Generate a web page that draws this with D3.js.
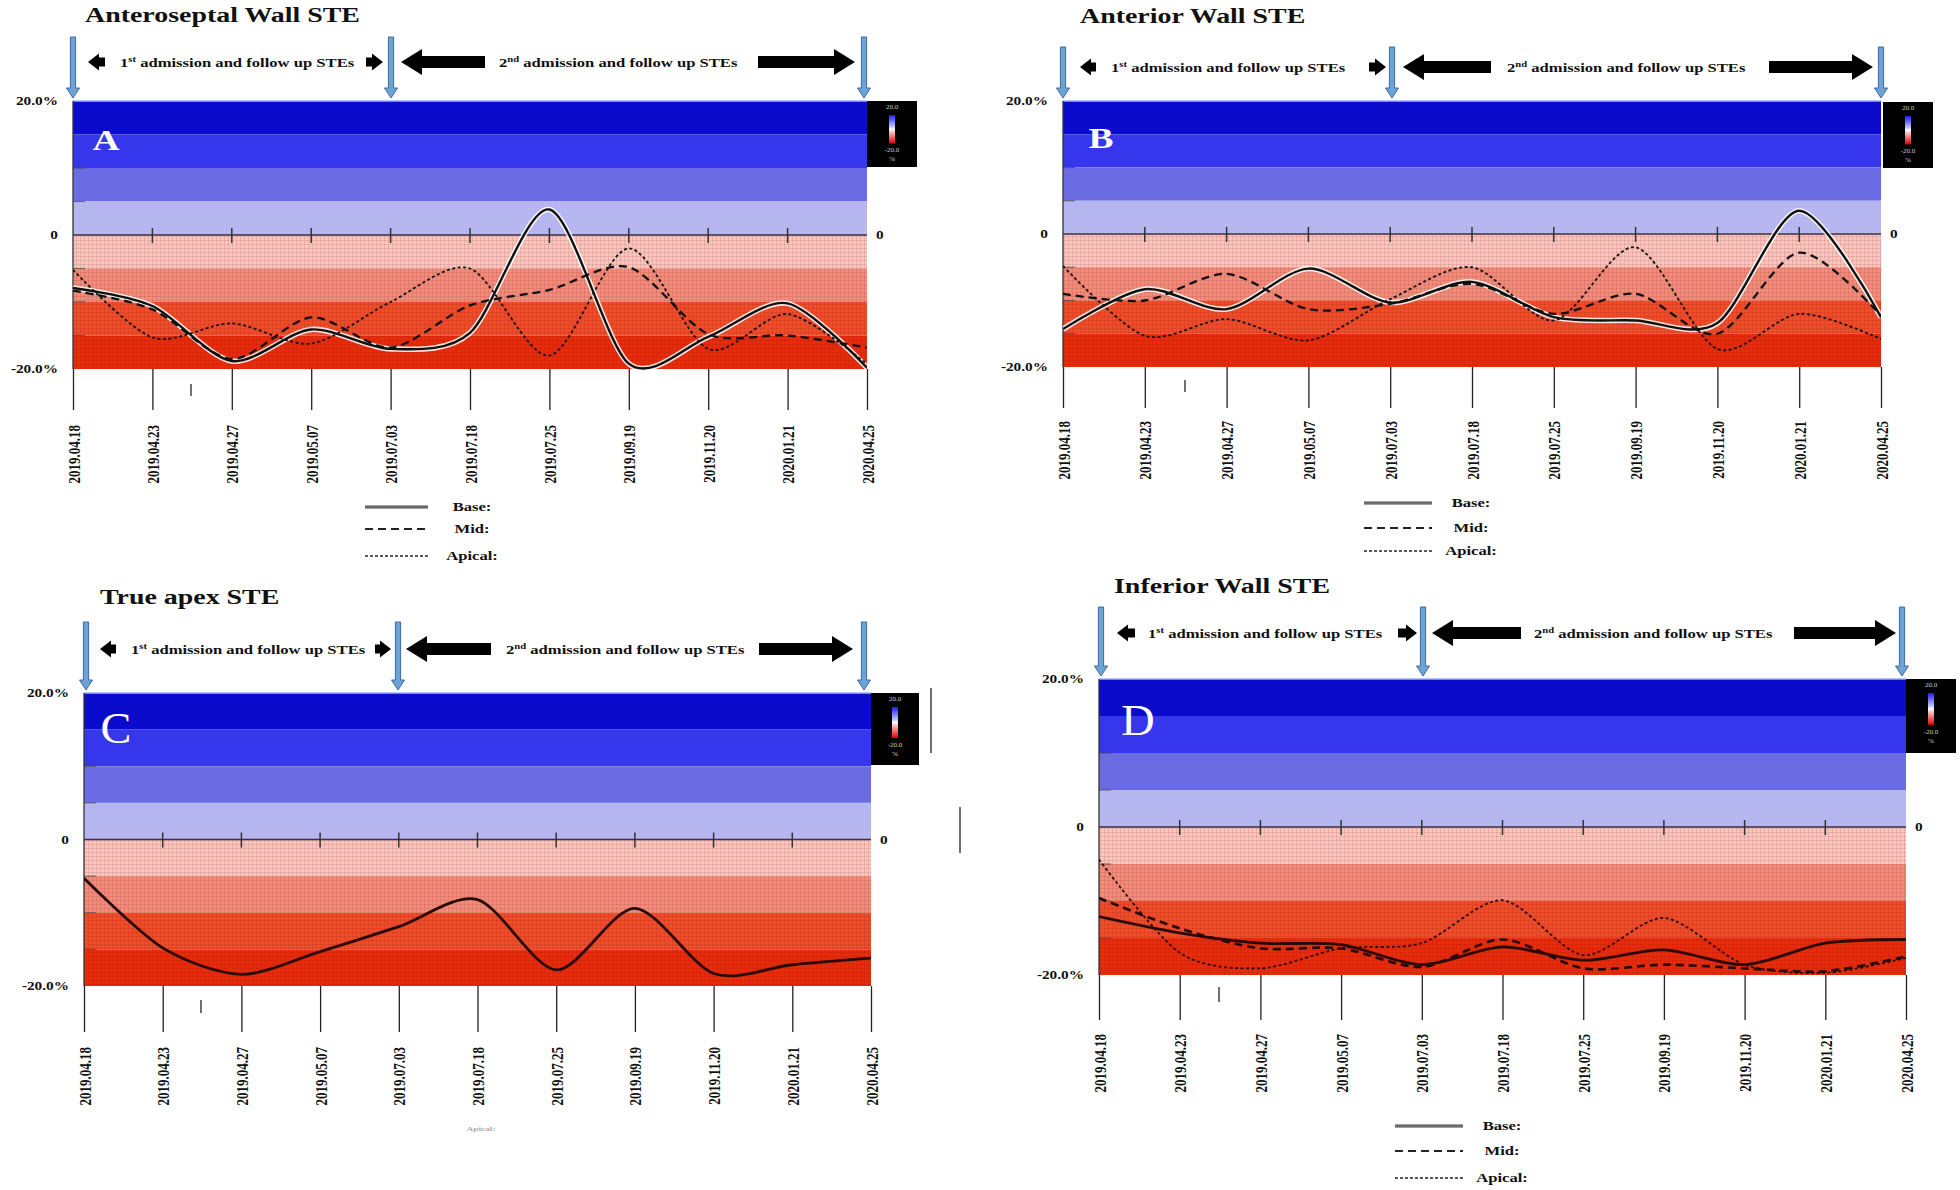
<!DOCTYPE html>
<html><head><meta charset="utf-8">
<script src="https://cdn.jsdelivr.net/npm/d3@7"></script>
<style>
body{margin:0;background:#fff;}
svg{display:block;}
text{font-family:"Liberation Serif","Times New Roman",serif;}
</style>
</head><body>
<svg id="c" width="1960" height="1190"></svg>
<script>
// ---------------- data ----------------
const categories = ["2019.04.18","2019.04.23","2019.04.27","2019.05.07","2019.07.03","2019.07.18","2019.07.25","2019.09.19","2019.11.20","2020.01.21","2020.04.25"];
const yTickValues = [20, 0, -20];
const yTickLabels = ["20.0%", "0", "-20.0%"];
const bandEdges = [20, 15, 10, 5, 0, -5, -10, -15, -20];
const seriesNames = ["Base:", "Mid:", "Apical:"];
const headerTexts = [["1", "st", " admission and follow up STEs"], ["2", "nd", " admission and follow up STEs"]];

const anteroseptalBase   = [-7.9, -10.6, -18.8, -14.1, -17.0, -14.6, 3.8, -19.2, -15.2, -10.2, -19.8];
const anteroseptalMid    = [-8.3, -11.1, -18.5, -12.3, -16.8, -10.5, -8.2, -4.8, -14.8, -15.0, -16.8];
const anteroseptalApical = [-5.2, -15.3, -13.2, -16.2, -10.0, -5.0, -18.0, -2.0, -17.0, -11.8, -19.3];

const anteriorBase   = [-14.3, -8.3, -11.3, -5.2, -10.3, -7.2, -12.5, -13.0, -13.4, 3.5, -12.5];
const anteriorMid    = [-9.0, -10.0, -6.0, -11.3, -10.5, -7.5, -12.0, -9.0, -15.0, -2.8, -12.3];
const anteriorApical = [-4.8, -15.3, -12.8, -16.0, -9.8, -5.0, -13.0, -2.0, -17.3, -12.0, -15.8];

const apexBase = [-5.3, -14.8, -18.4, -15.3, -11.9, -8.2, -17.8, -9.4, -18.3, -17.1, -16.2];

const inferiorBase   = [-12.1, -14.3, -15.7, -15.9, -18.6, -16.2, -18.0, -16.6, -18.6, -15.7, -15.2];
const inferiorMid    = [-9.6, -13.7, -16.4, -16.4, -18.9, -15.2, -19.1, -18.6, -19.1, -19.5, -17.5];
const inferiorApical = [-4.4, -17.0, -19.1, -16.4, -15.7, -9.9, -17.3, -12.3, -18.6, -19.7, -17.7];

// ---------------- styles / layout ----------------
const bandColors = ["#0b0bcc", "#3636ec", "#6b6be4", "#b4b4f0", "#f8c4bc", "#f28c7a", "#ef4c2a", "#e82c0b"];
const SX = 1.33;
const FONT = '"Liberation Serif","Times New Roman",serif';

const panels = [
  { title: "Anteroseptal Wall STE", titleX: 85, titleY: 22, letter: "A", letterBold: true, letterX: 106, letterY: 150,
    left: 73, right: 867, top: 101, bottom: 369, tickEnd: 410, labelTop: 425,
    blueX: [73, 391, 864], blueTop: 37, blueBottom: 98, headY: 62,
    smallL: [88, 105], text1X: 120, smallR: [366, 383], bigL: [401, 485], text2X: 499, bigR: [758, 855],
    cbox: [867, 101, 50, 66], halo: true,
    legend: { x1: 365, x2: 428, tx: 472, ys: [507, 529, 556] },
    stray: [[191, 384, 191, 396]],
    series: [anteroseptalBase, anteroseptalMid, anteroseptalApical] },
  { title: "Anterior Wall STE", titleX: 1080, titleY: 23, letter: "B", letterBold: true, letterX: 1101, letterY: 148,
    left: 1063, right: 1881, top: 101, bottom: 367, tickEnd: 408, labelTop: 421,
    blueX: [1063, 1392, 1881], blueTop: 47, blueBottom: 98, headY: 67,
    smallL: [1080, 1096], text1X: 1111, smallR: [1369, 1386], bigL: [1403, 1491], text2X: 1507, bigR: [1769, 1873],
    cbox: [1883, 102, 50, 66], halo: true,
    legend: { x1: 1364, x2: 1432, tx: 1471, ys: [503, 528, 551] },
    stray: [[1185, 380, 1185, 392]],
    series: [anteriorBase, anteriorMid, anteriorApical] },
  { title: "True apex STE", titleX: 100, titleY: 604, letter: "C", letterBold: false, letterX: 116, letterY: 743,
    left: 84, right: 871, top: 693, bottom: 986, tickEnd: 1032, labelTop: 1047,
    blueX: [86, 398, 864], blueTop: 622, blueBottom: 690, headY: 649,
    smallL: [100, 116], text1X: 131, smallR: [375, 391], bigL: [406, 491], text2X: 506, bigR: [759, 853],
    cbox: [871, 693, 48, 72], halo: false,
    legend: null,
    stray: [[201, 1000, 201, 1013], [931, 688, 931, 753], [960, 807, 960, 853]],
    series: [apexBase] },
  { title: "Inferior Wall STE", titleX: 1114, titleY: 593, letter: "D", letterBold: false, letterX: 1138, letterY: 735,
    left: 1099, right: 1906, top: 679, bottom: 975, tickEnd: 1020, labelTop: 1034,
    blueX: [1101, 1423, 1902], blueTop: 607, blueBottom: 676, headY: 633,
    smallL: [1117, 1135], text1X: 1148, smallR: [1398, 1417], bigL: [1432, 1521], text2X: 1534, bigR: [1794, 1896],
    cbox: [1906, 679, 50, 74], halo: false,
    legend: { x1: 1395, x2: 1463, tx: 1502, ys: [1126, 1151, 1178] },
    stray: [[1219, 987, 1219, 1002]],
    series: [inferiorBase, inferiorMid, inferiorApical] }
];

const lineStyles = [
  { color: "#111", width: 2.4, dash: null },
  { color: "#111", width: 2.3, dash: "8,5" },
  { color: "#111", width: 1.8, dash: "3,2.5" }
];

// ---------------- drawing ----------------
const svg = d3.select("#c");
svg.append("rect").attr("width", 1960).attr("height", 1190).attr("fill", "#fff");
const defs = svg.append("defs");
const pat = defs.append("pattern").attr("id", "grid").attr("width", 4).attr("height", 4).attr("patternUnits", "userSpaceOnUse");
pat.append("path").attr("d", "M4 0 L0 0 0 4").attr("fill", "none").attr("stroke", "rgba(110,0,0,0.2)").attr("stroke-width", 1);
const pat2 = defs.append("pattern").attr("id", "gridw").attr("width", 4).attr("height", 4).attr("patternUnits", "userSpaceOnUse");
pat2.append("path").attr("d", "M4 0 L0 0 0 4").attr("fill", "none").attr("stroke", "rgba(255,255,255,0.10)").attr("stroke-width", 1);
const grad = defs.append("linearGradient").attr("id", "cbar").attr("x1", 0).attr("y1", 0).attr("x2", 0).attr("y2", 1);
[[0, "#1818ff"], [0.42, "#c8c8ff"], [0.5, "#ffffff"], [0.58, "#ffc8c8"], [1, "#dd0000"]].forEach(s =>
  grad.append("stop").attr("offset", s[0]).attr("stop-color", s[1]));

function stext(g, x, y, str, size, opts = {}) {
  return g.append("text")
    .attr("transform", `translate(${x},${y}) scale(${opts.sx || SX},1)`)
    .attr("font-family", FONT)
    .attr("font-weight", opts.bold === false ? "normal" : "bold")
    .attr("font-size", size)
    .attr("text-anchor", opts.anchor || "start")
    .attr("fill", opts.fill || "#111")
    .text(str);
}

function arrowPath(tip, tail, cy, headLen, headH, shaftH) {
  const s = Math.sign(tail - tip);
  const hb = tip + s * headLen;
  return `M${tip},${cy} L${hb},${cy - headH / 2} L${hb},${cy - shaftH / 2} L${tail},${cy - shaftH / 2} L${tail},${cy + shaftH / 2} L${hb},${cy + shaftH / 2} L${hb},${cy + headH / 2} Z`;
}

function blueArrow(g, x, top, bottom) {
  g.append("path")
    .attr("d", `M${x - 2.6},${top} L${x + 2.6},${top} L${x + 2.6},${bottom - 10} L${x + 6.5},${bottom - 10} L${x},${bottom} L${x - 6.5},${bottom - 10} L${x - 2.6},${bottom - 10} Z`)
    .attr("fill", "#6ea3d6").attr("stroke", "#2f6098").attr("stroke-width", 0.9);
}

panels.forEach((p, pi) => {
  const g = svg.append("g");
  const x = d3.scalePoint().domain(categories).range([p.left, p.right]);
  const y = d3.scaleLinear().domain([-20, 20]).range([p.bottom, p.top]);
  const W = p.right - p.left;

  // background bands
  g.selectAll("rect.band").data(d3.pairs(bandEdges)).join("rect").attr("class", "band")
    .attr("x", p.left).attr("width", W)
    .attr("y", d => y(d[0])).attr("height", d => y(d[1]) - y(d[0]))
    .attr("fill", (d, i) => bandColors[i]);
  g.append("rect").attr("x", p.left).attr("y", y(0)).attr("width", W).attr("height", y(-20) - y(0)).attr("fill", "url(#grid)");
  g.append("rect").attr("x", p.left).attr("y", y(5)).attr("width", W).attr("height", y(0) - y(5)).attr("fill", "url(#gridw)");
  g.append("line").attr("x1", p.left).attr("x2", p.right).attr("y1", y(20)).attr("y2", y(20)).attr("stroke", "#9fb3ee").attr("stroke-width", 1.5);

  // left edge dashes at band edges
  g.selectAll("line.ld").data([10, 5, -5, -10, -15]).join("line").attr("class", "ld")
    .attr("x1", p.left).attr("x2", p.left + 12).attr("y1", d => y(d)).attr("y2", d => y(d))
    .attr("stroke", "#444").attr("stroke-width", 1.1).attr("opacity", 0.7);

  // left axis line + zero line
  g.append("line").attr("x1", p.left).attr("x2", p.left).attr("y1", y(20)).attr("y2", y(-20)).attr("stroke", "#333").attr("stroke-width", 1.3);
  g.append("line").attr("x1", p.left).attr("x2", p.right).attr("y1", y(0)).attr("y2", y(0)).attr("stroke", "#3a3340").attr("stroke-width", 1.6);
  g.selectAll("line.zt").data(categories.slice(1, -1)).join("line").attr("class", "zt")
    .attr("x1", d => x(d)).attr("x2", d => x(d)).attr("y1", y(0) - 7).attr("y2", y(0) + 8)
    .attr("stroke", "#333").attr("stroke-width", 1.5);

  // curves
  const clipId = "clip" + pi;
  defs.append("clipPath").attr("id", clipId).append("rect")
    .attr("x", p.left).attr("y", p.top).attr("width", W).attr("height", p.bottom - p.top + 2);
  const line = d3.line().x((d, i) => x(categories[i])).y(d => y(d)).curve(d3.curveCardinal.tension(0.15));
  const cg = g.append("g").attr("clip-path", `url(#${clipId})`);
  p.series.forEach((vals, si) => {
    const st = lineStyles[si];
    if (si === 0 && p.halo) {
      cg.append("path").attr("d", line(vals)).attr("fill", "none").attr("stroke", "#fff").attr("stroke-width", 5.5).attr("opacity", 0.85);
    }
    cg.append("path").attr("d", line(vals)).attr("fill", "none")
      .attr("stroke", pi >= 2 ? "#2a0808" : st.color)
      .attr("stroke-width", st.width + (pi >= 2 && si < 2 ? 0.4 : 0))
      .attr("stroke-dasharray", st.dash);
  });

  // bottom axis with long ticks and rotated date labels
  const xAxis = d3.axisBottom(x).tickSize(p.tickEnd - p.bottom).tickSizeOuter(0).tickPadding(0);
  const ax = g.append("g").attr("transform", `translate(0,${p.bottom})`).call(xAxis);
  ax.select(".domain").remove();
  ax.selectAll(".tick line").attr("stroke", "#222").attr("stroke-width", 1.3);
  ax.selectAll(".tick text")
    .attr("x", 0).attr("y", 0).attr("dy", "0.35em")
    .attr("transform", `translate(0,${p.labelTop - p.bottom}) scale(${SX},1) rotate(-90)`)
    .attr("text-anchor", "end").attr("font-family", FONT).attr("font-weight", "bold")
    .attr("font-size", 13).attr("fill", "#111");

  // y labels
  yTickValues.forEach((v, i) => {
    stext(g, p.left - 15, y(v) + 4, yTickLabels[i], 11.5, { anchor: "end" });
  });
  stext(g, p.right + 9, y(0) + 4, "0", 11.5, { anchor: "start" });

  // colour bar box
  const [bx, by, bw, bh] = p.cbox;
  g.append("rect").attr("x", bx).attr("y", by).attr("width", bw).attr("height", bh).attr("fill", "#000");
  g.append("rect").attr("x", bx + bw / 2 - 3).attr("y", by + 14).attr("width", 6).attr("height", bh * 0.43).attr("fill", "url(#cbar)");
  const cbt = [["20.0", by + 8], ["-20.0", by + 14 + bh * 0.43 + 9], ["%", by + 14 + bh * 0.43 + 18]];
  cbt.forEach(t => g.append("text").attr("x", bx + bw / 2).attr("y", t[1]).attr("text-anchor", "middle")
    .attr("font-family", FONT).attr("font-size", 7).attr("fill", "#ccc").text(t[0]));

  // panel letter
  stext(g, p.letterX, p.letterY, p.letter, p.letterBold ? 30 : 44, { anchor: "middle", fill: "#fff", bold: p.letterBold, sx: p.letterBold ? 1.25 : 1.05 });

  // title
  stext(g, p.titleX, p.titleY, p.title, 21);

  // header arrows
  p.blueX.forEach(bxp => blueArrow(g, bxp, p.blueTop, p.blueBottom));
  g.append("path").attr("d", arrowPath(p.smallL[0], p.smallL[1], p.headY, 11, 17, 9)).attr("fill", "#000");
  g.append("path").attr("d", arrowPath(p.smallR[1], p.smallR[0], p.headY, 11, 17, 9)).attr("fill", "#000");
  g.append("path").attr("d", arrowPath(p.bigL[0], p.bigL[1], p.headY, 21, 26, 12)).attr("fill", "#000");
  g.append("path").attr("d", arrowPath(p.bigR[1], p.bigR[0], p.headY, 21, 26, 12)).attr("fill", "#000");
  [p.text1X, p.text2X].forEach((tx, k) => {
    const t = g.append("text").attr("transform", `translate(${tx},${p.headY + 4.5}) scale(${SX},1)`)
      .attr("font-family", FONT).attr("font-weight", "bold").attr("font-size", 12.5).attr("fill", "#111");
    t.append("tspan").text(headerTexts[k][0]);
    t.append("tspan").attr("font-size", 8).attr("dy", -5).text(headerTexts[k][1]);
    t.append("tspan").attr("dy", 5).text(headerTexts[k][2]);
  });

  // stray marks present in the figure
  p.stray.forEach(s => g.append("line").attr("x1", s[0]).attr("y1", s[1]).attr("x2", s[2]).attr("y2", s[3])
    .attr("stroke", "#333").attr("stroke-width", 1.4));

  // legend
  if (p.legend) {
    const L = p.legend;
    seriesNames.forEach((name, si) => {
      const ly = L.ys[si];
      if (si === 0) {
        g.append("line").attr("x1", L.x1).attr("x2", L.x2).attr("y1", ly).attr("y2", ly).attr("stroke", "#444").attr("stroke-width", 3.2);
        g.append("line").attr("x1", L.x1).attr("x2", L.x2).attr("y1", ly).attr("y2", ly).attr("stroke", "#aaa").attr("stroke-width", 0.8);
      } else {
        g.append("line").attr("x1", L.x1).attr("x2", L.x2).attr("y1", ly).attr("y2", ly).attr("stroke", "#222")
          .attr("stroke-width", si === 1 ? 2 : 1.6).attr("stroke-dasharray", si === 1 ? "8,5" : "3,2");
      }
      stext(g, L.tx, ly + 4, name, 12.5, { anchor: "middle" });
    });
  } else {
    stext(g, 481, 1131, "Apical:", 7, { anchor: "middle", fill: "#aaa" });
  }
});
</script>
</body></html>
